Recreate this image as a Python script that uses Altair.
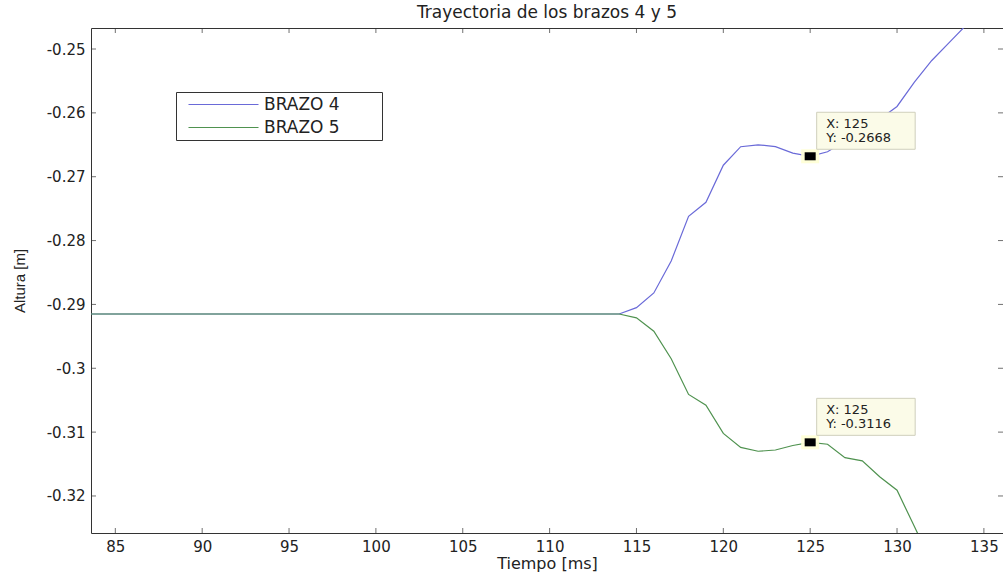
import altair as alt
import pandas as pd

chart_title = "Trayectoria de los brazos 4 y 5"
x_title = "Tiempo [ms]"
y_title = "Altura [m]"
series_names = ["BRAZO 4", "BRAZO 5"]
series_colors = ["#6a6ad8", "#4f924f"]

x_ticks = [85, 90, 95, 100, 105, 110, 115, 120, 125, 130, 135]
y_ticks = [-0.25, -0.26, -0.27, -0.28, -0.29, -0.30, -0.31, -0.32]
x_domain = [83.6, 136.1]
y_domain = [-0.3258, -0.24671]

t_brazo4 = [83, 114, 115, 116, 117, 118, 119, 120, 121, 122, 123, 124,
            125, 126, 127, 128, 129, 130, 131, 132, 133, 134]
y_brazo4 = [-0.2915, -0.2915, -0.2905, -0.2882, -0.2832, -0.2762, -0.2740,
            -0.2682, -0.2653, -0.2650, -0.2653, -0.2663, -0.2668, -0.2661,
            -0.2644, -0.2627, -0.2610, -0.2590, -0.2552, -0.2518, -0.2490,
            -0.2462]

t_brazo5 = [83, 114, 115, 116, 117, 118, 119, 120, 121, 122, 123, 124,
            125, 126, 127, 128, 129, 130, 131, 132]
y_brazo5 = [-0.2915, -0.2915, -0.2921, -0.2942, -0.2985, -0.3041, -0.3058,
            -0.3102, -0.3124, -0.3130, -0.3128, -0.3121, -0.3116, -0.3119,
            -0.3140, -0.3145, -0.3170, -0.3191, -0.3248, -0.3305]

tip_x = [125, 125]
tip_y = [-0.2668, -0.3116]

lines_df = pd.DataFrame(
    {"t": t_brazo4 + t_brazo5,
     "y": y_brazo4 + y_brazo5,
     "serie": [series_names[0]] * len(t_brazo4) + [series_names[1]] * len(t_brazo5)}
)
tips_df = pd.DataFrame(
    {"t": tip_x, "y": tip_y,
     "l1": [f"X: {v}" for v in tip_x],
     "l2": [f"Y: {v:.4f}" for v in tip_y]}
)
xt_bottom = pd.DataFrame({"t": x_ticks, "y": [y_domain[0]] * len(x_ticks)})
xt_top = pd.DataFrame({"t": x_ticks, "y": [y_domain[1]] * len(x_ticks)})
yt_left = pd.DataFrame({"t": [x_domain[0]] * len(y_ticks), "y": y_ticks})
yt_right = pd.DataFrame({"t": [x_domain[1]] * len(y_ticks), "y": y_ticks})

FONT = "DejaVu Sans"
AX = "#333333"
TXT = "#222222"

xs = alt.Scale(domain=x_domain, nice=False, zero=False)
ys = alt.Scale(domain=y_domain, nice=False, zero=False)

x_axis = alt.Axis(
    orient="bottom", values=x_ticks, title=x_title, grid=False,
    ticks=False, domain=False, labelPadding=6,
    labelFont=FONT, labelFontSize=15, labelColor=TXT,
    titleFont=FONT, titleFontSize=16, titleFontWeight="normal",
    titleColor=TXT, titleY=35, titleBaseline="alphabetic", labelFlush=False)
y_axis = alt.Axis(
    orient="left", values=y_ticks, title=y_title, grid=False,
    ticks=False, domain=False, labelPadding=6,
    labelExpr="replace(format(datum.value, '.2~f'), '\u2212', '-')",
    labelFont=FONT, labelFontSize=15, labelColor=TXT,
    titleFont="Liberation Sans", titleFontSize=15, titleFontWeight="normal",
    titleColor=TXT, titlePadding=19, labelFlush=False)

X = alt.X("t:Q", scale=xs, axis=x_axis)
Y = alt.Y("y:Q", scale=ys, axis=y_axis)

lines = alt.Chart(lines_df).mark_line(strokeWidth=1.2, clip=True).encode(
    x=X, y=Y,
    color=alt.Color("serie:N", scale=alt.Scale(domain=series_names, range=series_colors),
                    legend=alt.Legend(
                        orient="none", legendX=85, legendY=64,
                        title="\u00a0", titleOrient="right", titlePadding=38,
                        titleFontSize=12,
                        symbolType="M-14,0H14", symbolSize=25, symbolStrokeWidth=1.2,
                        labelFont=FONT, labelFontSize=17, labelColor=TXT,
                        labelOffset=32, strokeColor="#333333", fillColor="white",
                        padding=4, rowPadding=5, symbolOffset=35)),
)

def tick_layer(df, orient, **offs):
    return alt.Chart(df).mark_tick(orient=orient, size=5, thickness=1, color=AX, **offs).encode(
        x=X, y=Y)

ticks_b = tick_layer(xt_bottom, "vertical", yOffset=-2.5)
ticks_t = tick_layer(xt_top, "vertical", yOffset=2.5)
ticks_l = tick_layer(yt_left, "horizontal", xOffset=2.5)
ticks_r = tick_layer(yt_right, "horizontal", xOffset=-2.5)

base = alt.Chart(tips_df).encode(x=X, y=Y)

halo = base.mark_rect(color="#ffffd6", opacity=0.95,
                      xOffset=-9, x2Offset=9, yOffset=-7, y2Offset=7).encode(
    x2="t:Q", y2="y:Q")
marker = base.mark_rect(color="black",
                        xOffset=-5.5, x2Offset=5.5, yOffset=-4, y2Offset=4).encode(
    x2="t:Q", y2="y:Q")
box = base.mark_rect(fill="#fbfbe8", stroke="#cfcfbc", strokeWidth=1,
                     xOffset=6.5, x2Offset=105, yOffset=-44, y2Offset=-7).encode(
    x2="t:Q", y2="y:Q")
text1 = base.mark_text(align="left", baseline="alphabetic", dx=16, dy=-28.5,
                       font=FONT, fontSize=13, color=TXT).encode(text="l1:N")
text2 = base.mark_text(align="left", baseline="alphabetic", dx=16, dy=-14.5,
                       font=FONT, fontSize=13, color=TXT).encode(text="l2:N")

chart = alt.layer(lines, ticks_b, ticks_t, ticks_l, ticks_r,
                  halo, marker, box, text1, text2).properties(
    width=912, height=505,
    title=alt.TitleParams(chart_title, font=FONT, fontSize=17, fontWeight="normal",
                          color=TXT, anchor="middle", offset=6),
    autosize=alt.AutoSizeParams(type="none"),
    padding={"left": 91, "top": 28, "right": 0, "bottom": 40},
    background="white",
).configure_view(stroke=AX, strokeWidth=1)

chart.save("out.html", embed_options={"renderer": "svg", "actions": False})
